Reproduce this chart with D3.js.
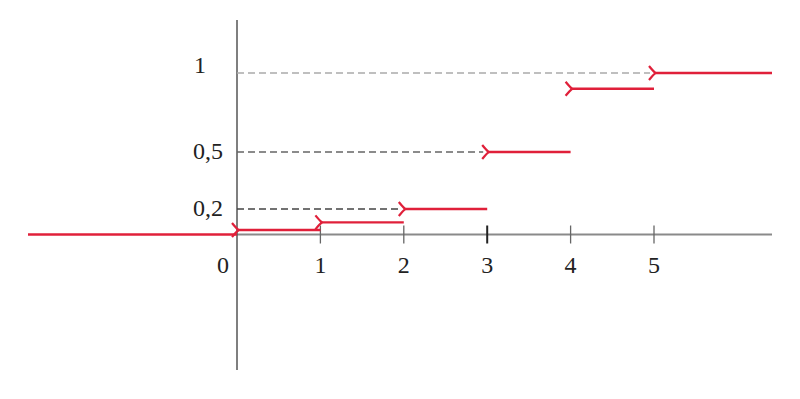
<!DOCTYPE html>
<html>
<head>
<meta charset="utf-8">
<script src="https://cdn.jsdelivr.net/npm/d3@7"></script>
<style>
  body { margin: 0; background: #fff; }
</style>
</head>
<body>
<svg id="chart_svg"></svg>
<script>
// step function F(x): value on [k, k+1)
var stepStarts = [0, 1, 2, 3, 4, 5];
var stepValues = [0.035, 0.095, 0.2, 0.5, 0.9, 1];
var yTickValues = [0.2, 0.5, 1];
var yTickLabels = ["0,2", "0,5", "1"];
var xTickValues = [1, 2, 3, 4, 5];

var width = 800,
    height = 399;

var svg = d3.select("#chart_svg")
    .attr("width", width)
    .attr("height", height)
    .style("font-family", "'Liberation Serif', 'DejaVu Serif', serif")
    .style("font-size", "24px");

var xScale = d3.scaleLinear()
    .domain([0, 5])
    .range([237, 654]);

// hand-drawn figure: the vertical scale is not quite uniform
var yScale = d3.scaleLinear()
    .domain([0, 0.2, 0.5, 1])
    .range([234.5, 209, 152, 73]);

var red = "#e0203a";

// axes
svg.append("line")
    .attr("x1", xScale(0))
    .attr("x2", 772)
    .attr("y1", yScale(0))
    .attr("y2", yScale(0))
    .attr("stroke", "#8a8a8a")
    .attr("stroke-width", 2);

svg.append("line")
    .attr("x1", xScale(0))
    .attr("x2", xScale(0))
    .attr("y1", 20)
    .attr("y2", 370)
    .attr("stroke", "#555")
    .attr("stroke-width", 1.5);

svg.selectAll(".xtick")
    .data(xTickValues)
    .enter()
    .append("line")
    .attr("class", "xtick")
    .attr("x1", function (d) { return xScale(d); })
    .attr("x2", function (d) { return xScale(d); })
    .attr("y1", yScale(0) - 9)
    .attr("y2", yScale(0) + 9)
    .attr("stroke", function (d) { return d == 3 ? "#222" : "#666"; })
    .attr("stroke-width", function (d) { return d == 3 ? 2 : 1.3; });

svg.selectAll(".xlabel")
    .data(xTickValues)
    .enter()
    .append("text")
    .attr("class", "xlabel")
    .attr("x", function (d) { return xScale(d); })
    .attr("y", 273)
    .attr("fill", "#222")
    .style("text-anchor", "middle")
    .text(function (d) { return d; });

svg.append("text")
    .attr("x", 223)
    .attr("y", 273)
    .attr("fill", "#222")
    .style("text-anchor", "middle")
    .text("0");

// dashed guides from the y axis to each labelled level
var dashColors = ["#444", "#666", "#aaa"];
svg.selectAll(".guide")
    .data(yTickValues)
    .enter()
    .append("line")
    .attr("class", "guide")
    .attr("x1", xScale(0))
    .attr("x2", function (d) {
        var i = stepValues.indexOf(d);
        return xScale(stepStarts[i]) - 4;
    })
    .attr("y1", function (d) { return yScale(d); })
    .attr("y2", function (d) { return yScale(d); })
    .attr("stroke", function (d, i) { return dashColors[i]; })
    .attr("stroke-width", 1.5)
    .attr("stroke-dasharray", "7,4");

svg.selectAll(".ylabel")
    .data(yTickValues)
    .enter()
    .append("text")
    .attr("class", "ylabel")
    .attr("x", function (d) { return d == 1 ? 206 : 223; })
    .attr("y", function (d) { return d == 1 ? yScale(d) : yScale(d) + 7; })
    .attr("fill", "#222")
    .style("text-anchor", "end")
    .text(function (d, i) { return yTickLabels[i]; });

// F = 0 for x < 0
svg.append("line")
    .attr("x1", 28)
    .attr("x2", xScale(0))
    .attr("y1", yScale(0))
    .attr("y2", yScale(0))
    .attr("stroke", red)
    .attr("stroke-width", 2.4);

// steps
svg.selectAll(".step")
    .data(stepStarts)
    .enter()
    .append("line")
    .attr("class", "step")
    .attr("x1", function (d) { return xScale(d); })
    .attr("x2", function (d, i) { return i == stepStarts.length - 1 ? 772 : xScale(d + 1); })
    .attr("y1", function (d, i) { return yScale(stepValues[i]); })
    .attr("y2", function (d, i) { return yScale(stepValues[i]); })
    .attr("stroke", red)
    .attr("stroke-width", 2.4);

// ">" brackets at the closed end of each step
svg.selectAll(".bracket")
    .data(stepStarts)
    .enter()
    .append("path")
    .attr("class", "bracket")
    .attr("d", function (d, i) {
        var x = xScale(d),
            y = yScale(stepValues[i]);
        return "M" + (x - 5) + "," + (y - 7) + " Q" + (x - 1) + "," + (y - 2) + " " + (x + 1.5) + "," + y +
            " Q" + (x - 1) + "," + (y + 2) + " " + (x - 5) + "," + (y + 7);
    })
    .attr("fill", "none")
    .attr("stroke", red)
    .attr("stroke-width", 2.2);
</script>
</body>
</html>
